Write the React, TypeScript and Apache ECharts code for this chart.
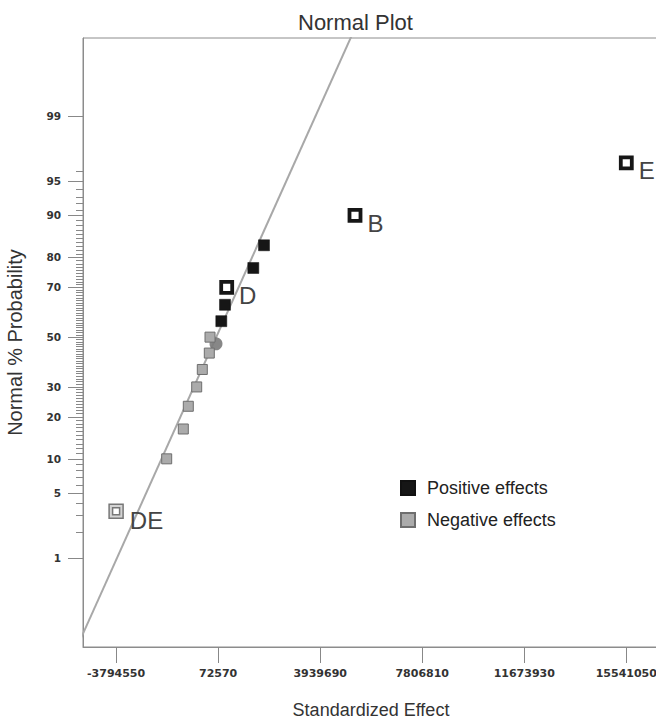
import React, { useEffect, useRef } from "react";
import * as echarts from "echarts";

// ---- data (effects in Standardized Effect units, probabilities in %) ----
const positiveEffects = [192300, 332500, 1405000, 1810600];
const positivePct = [56.67, 63.33, 76.67, 83.33];

const negativeEffects = [-1876900, -1247800, -1058300, -740000, -527700, -262500, -235900];
const negativePct = [10, 16.67, 23.33, 30, 36.67, 43.33, 50];

const namedPosNames = ["D", "B", "E"];
const namedPosEffects = [397000, 5259300, 15541050];
const namedPosPct = [70, 90, 96.67];

const namedNegNames = ["DE"];
const namedNegEffects = [-3794550];
const namedNegPct = [3.33];

const centerEffect = [-8500];
const centerPct = [47.2];

const refLineEffect = [-5200000, 5200000];
const refLinePct = [0.065, 99.935];

const xTickValues = [-3794550, 72570, 3939690, 7806810, 11673930, 15541050];
const yTickLabels = [1, 5, 10, 20, 30, 50, 70, 80, 90, 95, 99];
const yMinorTicks = [
  2, 3, 4, 6, 7, 8, 9,
  11, 12, 13, 14, 15, 16, 17, 18, 19,
  21, 22, 23, 24, 25, 26, 27, 28, 29,
  31, 32, 33, 34, 35, 36, 37, 38, 39, 40, 41, 42, 43, 44, 45, 46, 47, 48, 49,
  51, 52, 53, 54, 55, 56, 57, 58, 59, 60, 61, 62, 63, 64, 65, 66, 67, 68, 69,
  71, 72, 73, 74, 75, 76, 77, 78, 79,
  81, 82, 83, 84, 85, 86, 87, 88, 89,
  91, 92, 93, 94, 96,
];

// inverse normal CDF (Acklam) – used as the probability-axis transform
function probit(p: number): number {
  const a = [-3.969683028665376e1, 2.209460984245205e2, -2.759285104469687e2, 1.38357751867269e2, -3.066479806614716e1, 2.506628277459239];
  const b = [-5.447609879822406e1, 1.615858368580409e2, -1.556989798598866e2, 6.680131188771972e1, -1.328068155288572e1];
  const c = [-7.784894002430293e-3, -3.223964580411365e-1, -2.400758277161838, -2.549732539343734, 4.374664141464968, 2.938163982698783];
  const d = [7.784695709041462e-3, 3.224671290700398e-1, 2.445134137142996, 3.754408661907416];
  const pl = 0.02425;
  if (p < pl) {
    const q = Math.sqrt(-2 * Math.log(p));
    return (((((c[0] * q + c[1]) * q + c[2]) * q + c[3]) * q + c[4]) * q + c[5]) / ((((d[0] * q + d[1]) * q + d[2]) * q + d[3]) * q + 1);
  }
  if (p > 1 - pl) {
    const q = Math.sqrt(-2 * Math.log(1 - p));
    return -(((((c[0] * q + c[1]) * q + c[2]) * q + c[3]) * q + c[4]) * q + c[5]) / ((((d[0] * q + d[1]) * q + d[2]) * q + d[3]) * q + 1);
  }
  const q = p - 0.5;
  const r = q * q;
  return ((((((a[0] * r + a[1]) * r + a[2]) * r + a[3]) * r + a[4]) * r + a[5]) * q) / (((((b[0] * r + b[1]) * r + b[2]) * r + b[3]) * r + b[4]) * r + 1);
}
const z = (pct: number) => probit(pct / 100);
const pts = (xs: number[], ps: number[]) => xs.map((x, i) => [x, z(ps[i])]);

export default function App() {
  const ref = useRef<HTMLDivElement>(null);
  useEffect(() => {
    if (!ref.current) return;
    const chart = echarts.init(ref.current, undefined, { renderer: "svg" });
    const majorZ = yTickLabels.map(z);
    const minorZ = yMinorTicks.map(z);
    const yFmt = (v: number) => {
      let best = 0;
      let bd = Infinity;
      majorZ.forEach((m, i) => {
        const dd = Math.abs(m - v);
        if (dd < bd) { bd = dd; best = i; }
      });
      return String(yTickLabels[best]);
    };
    const tickFont = { fontFamily: "DejaVu Sans", fontWeight: "bold" as const, fontSize: 10.5, color: "#333" };
    const xTickFont = { fontFamily: "DejaVu Sans", fontWeight: "bold" as const, fontSize: 11, color: "#333" };
    const lineGrey = "#8c8c8c";
    const yMin = -3.263;
    const yMax = 3.15;
    const markLabel = {
      show: true,
      position: "right" as const,
      formatter: "{b}",
      fontFamily: "Liberation Sans",
      fontSize: 24,
      color: "#444",
    };
    chart.setOption({
      animation: false,
      backgroundColor: "#fff",
      title: {
        text: "Normal Plot",
        left: 293,
        top: 6,
        textStyle: { fontFamily: "Liberation Sans", fontSize: 22, fontWeight: "normal", color: "#333" },
      },
      legend: {
        orient: "vertical",
        left: 395,
        top: 474,
        itemWidth: 14,
        itemHeight: 14,
        itemGap: 14,
        icon: "rect",
        data: ["Positive effects", "Negative effects"],
        textStyle: { fontFamily: "Liberation Sans", fontSize: 18, color: "#222", padding: [0, 0, 0, 7] },
      },
      grid: {
        left: 83,
        right: 40,
        top: 38,
        bottom: 75,
        show: true,
        borderColor: lineGrey,
        borderWidth: 1,
        containLabel: false,
        outerBoundsMode: "none",
      },
      xAxis: {
        type: "value",
        min: -5048974,
        max: 17576132,
        name: "Standardized Effect",
        nameLocation: "middle",
        nameGap: 54,
        nameTextStyle: { fontFamily: "Liberation Sans", fontSize: 18, color: "#333", padding: [0, 21, 0, 0] },
        axisLine: { show: true, onZero: false, lineStyle: { color: lineGrey, width: 1 } },
        axisTick: { show: true, length: 16, customValues: xTickValues, lineStyle: { color: "#888" } },
        axisLabel: { show: true, customValues: xTickValues, margin: 21, formatter: (v: number) => String(Math.round(v)), ...xTickFont },
        splitLine: { show: false },
      },
      yAxis: [
        {
          type: "value",
          min: yMin,
          max: yMax,
          position: "left",
          name: "Normal % Probability",
          nameLocation: "middle",
          nameGap: 58,
          nameTextStyle: { fontFamily: "Liberation Sans", fontSize: 20, color: "#333" },
          axisLine: { show: true, onZero: false, lineStyle: { color: lineGrey, width: 1 } },
          axisTick: { show: true, length: 15, customValues: majorZ, lineStyle: { color: "#888" } },
          axisLabel: { show: true, customValues: majorZ, margin: 22, formatter: yFmt, ...tickFont },
          splitLine: { show: false },
        },
        {
          type: "value",
          min: yMin,
          max: yMax,
          position: "left",
          offset: 0,
          axisLine: { show: false, onZero: false },
          axisTick: { show: true, length: 7, customValues: minorZ, lineStyle: { color: "#888" } },
          axisLabel: { show: false },
          splitLine: { show: false },
        },
      ],
      series: [
        {
          type: "line",
          data: pts(refLineEffect, refLinePct),
          symbol: "none",
          lineStyle: { color: "#a8a8a8", width: 2 },
          clip: true,
          silent: true,
          z: 1,
        },
        {
          type: "scatter",
          data: pts(centerEffect, centerPct),
          symbol: "circle",
          symbolSize: 13,
          itemStyle: { color: "#7a7a7a", opacity: 0.9 },
          z: 2,
        },
        {
          name: "Negative effects",
          type: "scatter",
          data: pts(negativeEffects, negativePct),
          symbol: "rect",
          symbolSize: 10,
          itemStyle: { color: "#ababab", borderColor: "#6e6e6e", borderWidth: 1, opacity: 1 },
          z: 3,
        },
        {
          name: "Positive effects",
          type: "scatter",
          data: pts(positiveEffects, positivePct),
          symbol: "rect",
          symbolSize: 11,
          itemStyle: { color: "#161616", borderColor: "#111", borderWidth: 0.5, opacity: 1 },
          z: 4,
        },
        {
          type: "scatter",
          data: namedPosEffects.map((x, i) => ({ value: [x, z(namedPosPct[i])], name: namedPosNames[i] })),
          symbol: "rect",
          symbolSize: 11,
          itemStyle: { color: "#fff", borderColor: "#161616", borderWidth: 3.8, opacity: 1 },
          label: { ...markLabel, distance: 5, offset: [0, 8] },
          z: 5,
        },
        {
          type: "scatter",
          data: namedNegEffects.map((x, i) => ({ value: [x, z(namedNegPct[i])], name: namedNegNames[i] })),
          symbol: "rect",
          symbolSize: 14,
          itemStyle: { color: "#d4d4d4", borderColor: "#777", borderWidth: 1.5, opacity: 1 },
          label: { ...markLabel, distance: 6, offset: [0, 9] },
          z: 5,
        },
        {
          type: "scatter",
          data: pts(namedNegEffects, namedNegPct),
          symbol: "rect",
          symbolSize: 7,
          itemStyle: { color: "#fff", borderColor: "#777", borderWidth: 1.5, opacity: 1 },
          z: 6,
        },
      ],
    });
    return () => chart.dispose();
  }, []);
  return (
    <div style={{ position: "fixed", left: 0, top: 0, width: 656, height: 722, overflow: "hidden", background: "#fff" }}>
      <div ref={ref} style={{ width: 720, height: 722 }} />
    </div>
  );
}
